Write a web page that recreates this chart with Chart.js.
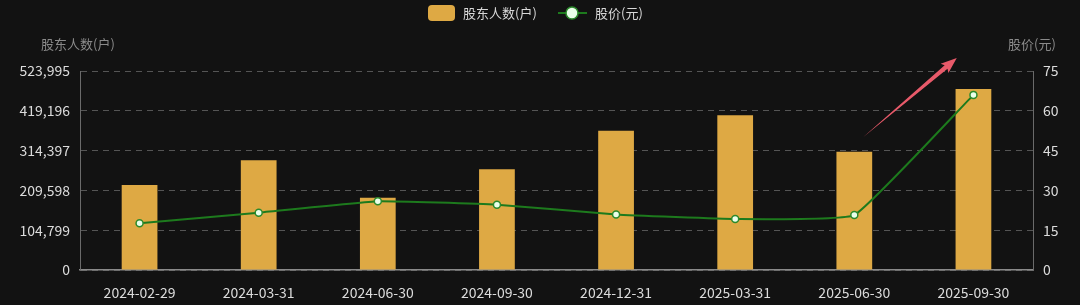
<!DOCTYPE html>
<html>
<head>
<meta charset="utf-8">
<script src="https://cdn.jsdelivr.net/npm/chart.js@4/dist/chart.umd.min.js"></script>
<style>
  html, body { margin: 0; padding: 0; background: #121212; }
  #wrap { width: 1080px; height: 305px; }
</style>
</head>
<body>
<div id="wrap"><canvas id="chart" width="1080" height="305"></canvas></div>
<script>
// 数据
const fechas = ['2024-02-29', '2024-03-31', '2024-06-30', '2024-09-30', '2024-12-31', '2025-03-31', '2025-06-30', '2025-09-30'];
const accionistas = [223800, 288900, 190400, 265100, 366800, 407300, 311500, 476600];
const precios = [17.6, 21.6, 25.9, 24.6, 20.9, 19.2, 20.7, 66.0];
const ticksIzq = [0, 104799, 209598, 314397, 419196, 523995];
const ticksDer = [0, 15, 30, 45, 60, 75];

const FUENTE = '"Noto Sans CJK SC", "Noto Sans", sans-serif';
const ORO = '#dea944';
const VERDE = '#1d7a1d';

// Leyenda, títulos de ejes y flecha
const decoracion = {
    id: 'decoracion',
    afterDraw(chart) {
        const ctx = chart.ctx;
        const area = chart.chartArea;
        const barras = chart.data.datasets.find(d => d.type === 'bar');
        const linea = chart.data.datasets.find(d => d.type === 'line');
        ctx.save();
        ctx.font = '13px ' + FUENTE;
        ctx.textBaseline = 'middle';

        // leyenda
        ctx.fillStyle = ORO;
        ctx.beginPath();
        ctx.roundRect(428, 5, 27, 16, 4);
        ctx.fill();
        ctx.fillStyle = '#d8d8d8';
        ctx.textAlign = 'left';
        ctx.fillText(barras.label, 463, 13);
        ctx.strokeStyle = VERDE;
        ctx.lineWidth = 2;
        ctx.beginPath();
        ctx.moveTo(558, 13);
        ctx.lineTo(587, 13);
        ctx.stroke();
        ctx.fillStyle = '#eaffea';
        ctx.beginPath();
        ctx.arc(572, 13, 6, 0, Math.PI * 2);
        ctx.fill();
        ctx.strokeStyle = '#2c8a2c';
        ctx.lineWidth = 1.5;
        ctx.stroke();
        ctx.fillStyle = '#d8d8d8';
        ctx.fillText(linea.label, 595, 13);

        // títulos de ejes
        ctx.fillStyle = '#8a8a8a';
        ctx.textAlign = 'center';
        ctx.fillText('股东人数(户)', 78, 44);
        ctx.fillText('股价(元)', 1032, 44);

        // flecha
        const x0 = area.left + (area.right - area.left) * 0.822;
        const y0 = area.top + 66;
        const x1 = area.left + (area.right - area.left) * 0.92;
        const y1 = area.top - 13;
        const ang = Math.atan2(y1 - y0, x1 - x0);
        const len = Math.hypot(x1 - x0, y1 - y0);
        ctx.translate(x0, y0);
        ctx.rotate(ang);
        ctx.fillStyle = '#e85a6a';
        ctx.beginPath();
        ctx.moveTo(0, 0);
        ctx.lineTo(len - 14, -2.2);
        ctx.lineTo(len - 16, -6);
        ctx.lineTo(len, 0);
        ctx.lineTo(len - 16, 6);
        ctx.lineTo(len - 14, 2.2);
        ctx.closePath();
        ctx.fill();
        ctx.restore();
    }
};

new Chart(document.getElementById('chart'), {
    data: {
        labels: fechas,
        datasets: [
            {
                type: 'line',
                label: '股价(元)',
                data: precios,
                yAxisID: 'yDer',
                borderColor: VERDE,
                borderWidth: 2,
                pointBackgroundColor: '#eaffea',
                pointBorderColor: '#2c8a2c',
                pointBorderWidth: 1.5,
                pointRadius: 3.5,
                tension: 0.1,
                order: 0
            },
            {
                type: 'bar',
                label: '股东人数(户)',
                data: accionistas,
                yAxisID: 'yIzq',
                backgroundColor: ORO,
                categoryPercentage: 1,
                barPercentage: 0.3,
                order: 1
            }
        ]
    },
    options: {
        responsive: false,
        animation: false,
        layout: { padding: { top: 71, right: 0, left: 0, bottom: 0 } },
        plugins: {
            legend: { display: false },
            tooltip: { enabled: false }
        },
        scales: {
            x: {
                grid: { display: false },
                border: { color: '#8a8a8a', width: 1.5 },
                ticks: { color: '#dcdcdc', font: { family: FUENTE, size: 14 }, padding: 6, maxRotation: 0 },
                afterFit(scale) { scale.height = 35; }
            },
            yIzq: {
                position: 'left',
                min: 0,
                max: ticksIzq[ticksIzq.length - 1],
                afterBuildTicks(scale) { scale.ticks = ticksIzq.map(v => ({ value: v })); },
                ticks: {
                    color: '#dcdcdc',
                    font: { family: FUENTE, size: 14 },
                    padding: 10,
                    callback: v => v.toLocaleString('en-US')
                },
                grid: { color: '#555', tickLength: 0, drawTicks: false },
                border: { color: '#6a6a6a', dash: [6, 5] },
                afterFit(scale) { scale.width = 80; }
            },
            yDer: {
                position: 'right',
                min: 0,
                max: ticksDer[ticksDer.length - 1],
                afterBuildTicks(scale) { scale.ticks = ticksDer.map(v => ({ value: v })); },
                ticks: { color: '#dcdcdc', font: { family: FUENTE, size: 14 }, padding: 10 },
                grid: { display: false, drawTicks: false },
                border: { color: '#6a6a6a' },
                afterFit(scale) { scale.width = 47; }
            }
        }
    },
    plugins: [decoracion]
});
</script>
</body>
</html>
